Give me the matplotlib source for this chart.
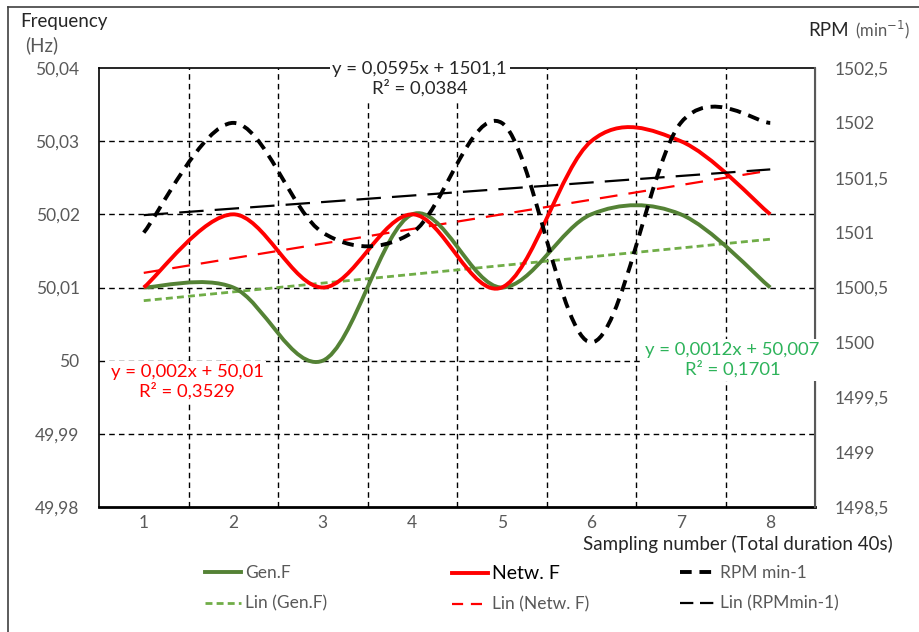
import matplotlib
matplotlib.use("Agg")
import matplotlib.pyplot as plt
from matplotlib.path import Path
from matplotlib.patches import PathPatch
from matplotlib.lines import Line2D
import numpy as np

plt.rcParams['font.family'] = ['Lato', 'DejaVu Sans']

samples = [1, 2, 3, 4, 5, 6, 7, 8]
gen_f = [50.01, 50.01, 50.00, 50.02, 50.01, 50.02, 50.02, 50.01]
netw_f = [50.01, 50.02, 50.01, 50.02, 50.01, 50.03, 50.03, 50.02]
rpm = [1501, 1502, 1501, 1501, 1502, 1500, 1502, 1502]

# trendline coefficients as printed on the chart (slope, intercept)
fit_gen = (0.0012, 50.007)
fit_netw = (0.002, 50.01)
fit_rpm = (0.0595, 1501.1)

freq_ticks = [49.98, 49.99, 50.00, 50.01, 50.02, 50.03, 50.04]
freq_labels = ['49,98', '49,99', '50', '50,01', '50,02', '50,03', '50,04']
rpm_ticks = [1498.5, 1499, 1499.5, 1500, 1500.5, 1501, 1501.5, 1502, 1502.5]
rpm_labels = ['1498,5', '1499', '1499,5', '1500', '1500,5', '1501', '1501,5', '1502', '1502,5']

GRAY = '#595959'
GREEN = '#548235'
LGREEN = '#70AD47'
TXTGREEN = '#2DB35A'


def smooth(xs, ys):
    # excel style smoothed line: catmull-rom as cubic bezier
    n = len(xs)
    mx, my = [], []
    for i in range(n):
        a, b = max(i - 1, 0), min(i + 1, n - 1)
        mx.append((xs[b] - xs[a]) / 2)
        my.append((ys[b] - ys[a]) / 2)
    verts = [(xs[0], ys[0])]
    codes = [Path.MOVETO]
    for i in range(n - 1):
        verts += [(xs[i] + mx[i] / 3, ys[i] + my[i] / 3),
                  (xs[i + 1] - mx[i + 1] / 3, ys[i + 1] - my[i + 1] / 3),
                  (xs[i + 1], ys[i + 1])]
        codes += [Path.CURVE4] * 3
    return Path(verts, codes)


fig = plt.figure(figsize=(9.19, 6.32), dpi=100)
ax = fig.add_axes([99 / 919, 1 - 507 / 632, 716 / 919, 439 / 632])
ax2 = ax.twinx()

ax.set_xlim(0.5, 8.5)
ax.set_ylim(49.98, 50.04)
ax2.set_ylim(1498.5, 1502.5)

ax.set_xticks(samples)
ax.set_xticklabels([str(s) for s in samples])
ax.set_yticks(freq_ticks)
ax.set_yticklabels(freq_labels)
ax2.set_yticks(rpm_ticks)
ax2.set_yticklabels(rpm_labels)
ax.tick_params(axis='both', length=0, colors=GRAY, labelsize=12.5)
ax.tick_params(axis='y', pad=14)
ax.tick_params(axis='x', pad=6)
ax2.tick_params(axis='y', length=0, colors=GRAY, labelsize=12.5, pad=14)

# grid
for v in freq_ticks[1:-1]:
    ax.axhline(v, color='black', lw=1, ls=(0, (4, 3)), zorder=1)
for v in np.arange(1.5, 8.5, 1):
    ax.axvline(v, color='black', lw=1, ls=(0, (4, 3)), zorder=1)

for sp in ['left', 'bottom', 'top']:
    ax.spines[sp].set_color('black')
ax.spines['bottom'].set_linewidth(2)
ax.spines['left'].set_linewidth(1.2)
ax.spines['top'].set_linewidth(1.2)
ax2.spines['right'].set_color('#595959')
ax2.spines['right'].set_linewidth(1.5)
for sp in ['left', 'bottom', 'top']:
    ax2.spines[sp].set_visible(False)

# trendlines
xs = np.array([samples[0], samples[-1]])
ax.plot(xs, fit_gen[0] * xs + fit_gen[1], color=LGREEN, lw=2, ls=(0, (2.5, 1.5)), zorder=3)
ax.plot(xs, fit_netw[0] * xs + fit_netw[1], color='red', lw=1.6, ls=(0, (8, 5)), zorder=3)
ax2.plot(xs, fit_rpm[0] * xs + fit_rpm[1], color='black', lw=1.6, ls=(0, (11, 5)), zorder=3)

# smoothed series
ax.add_patch(PathPatch(smooth(samples, gen_f), fill=False, edgecolor=GREEN, lw=2.8, zorder=4))
ax.add_patch(PathPatch(smooth(samples, netw_f), fill=False, edgecolor='red', lw=2.8, zorder=5))
ax2.add_patch(PathPatch(smooth(samples, rpm), fill=False, edgecolor='black', lw=2.8,
                        ls=(0, (3, 2)), capstyle='butt', zorder=6))

# trendline equations
box = dict(facecolor='white', edgecolor='none', pad=2)
ax2.text(0.448, 0.975, 'y = 0,0595x + 1501,1\nR² = 0,0384', transform=ax.transAxes,
         ha='center', va='center', fontsize=13.3, color='#262626', bbox=box, zorder=10)
ax2.text(0.123, 0.285, 'y = 0,002x + 50,01\nR² = 0,3529', transform=ax.transAxes,
         ha='center', va='center', fontsize=13.3, color='red', bbox=box, zorder=10)
ax2.text(0.885, 0.335, 'y = 0,0012x + 50,007\nR² = 0,1701', transform=ax.transAxes,
         ha='center', va='center', fontsize=13.3, color=TXTGREEN, bbox=box, zorder=10,
         clip_on=False)

# axis titles
fig.text(20 / 919, 1 - 22 / 632, 'Frequency', fontsize=13.5, color='#262626', va='center')
fig.text(25 / 919, 1 - 45 / 632, '(Hz)', fontsize=13.5, color=GRAY, va='center')
fig.text(808 / 919, 1 - 30 / 632, 'RPM', fontsize=13.5, color='#262626', va='center')
fig.text(855 / 919, 1 - 30 / 632, '(min$^{-1}$)', fontsize=12, color=GRAY, va='center')
fig.text(893 / 919, 1 - 544 / 632, 'Sampling number (Total duration 40s)', fontsize=13.5,
         color='#262626', ha='right', va='center')

# legends, three columns
h_gen = Line2D([], [], color=GREEN, lw=2.8)
h_lgen = Line2D([], [], color=LGREEN, lw=2, ls=(0, (2.5, 1.5)))
h_netw = Line2D([], [], color='red', lw=2.8)
h_lnetw = Line2D([], [], color='red', lw=1.6, ls=(0, (5, 3.5)))
h_rpm = Line2D([], [], color='black', lw=2.8, ls=(0, (3, 2)))
h_lrpm = Line2D([], [], color='black', lw=1.6, ls=(0, (6, 3)))

cols = [([h_gen, h_lgen], ['Gen.F', 'Lin (Gen.F)'], 205),
        ([h_netw, h_lnetw], ['Netw. F', 'Lin (Netw. F)'], 452),
        ([h_rpm, h_lrpm], ['RPM min-1', 'Lin (RPMmin-1)'], 680)]
for handles, labels, xpix in cols:
    leg = fig.legend(handles, labels, loc='upper left',
                     bbox_to_anchor=(xpix / 919, 1 - 565 / 632),
                     frameon=False, fontsize=12.5, handlelength=2.1, handletextpad=0.2,
                     labelspacing=0.85, borderpad=0, borderaxespad=0)
    for t in leg.get_texts():
        if t.get_text() == 'Netw. F':
            t.set_color('black')
            t.set_fontsize(14)
        else:
            t.set_color(GRAY)

# outer border (top and left only visible)
fig.add_artist(Line2D([8 / 919, 1], [1 - 7 / 632] * 2, color='#404040', lw=1.2))
fig.add_artist(Line2D([8 / 919] * 2, [0, 1 - 7 / 632], color='#404040', lw=1.2))

fig.savefig('out.png', dpi=100)
